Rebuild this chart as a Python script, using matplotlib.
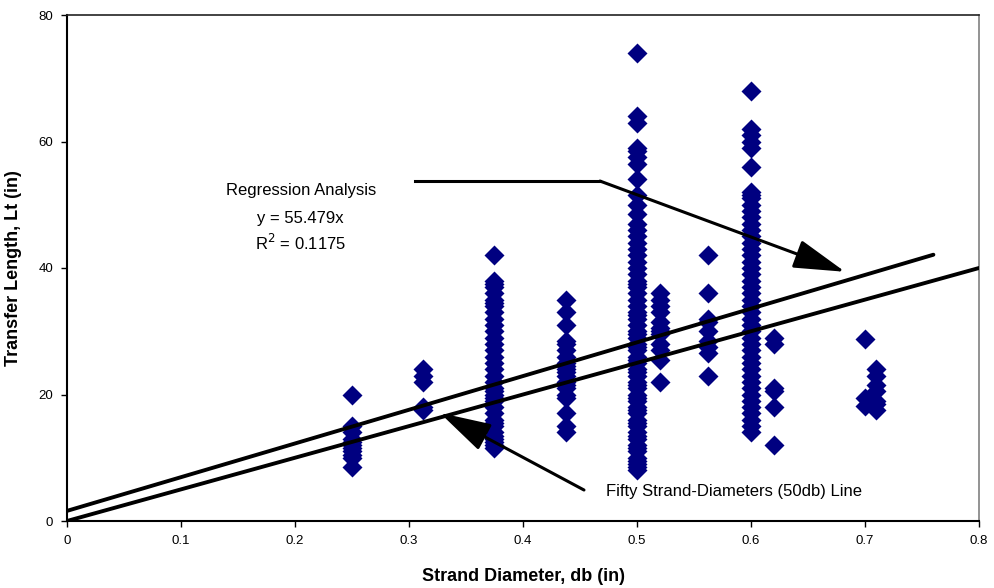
import matplotlib
matplotlib.use("Agg")
import matplotlib.pyplot as plt
import numpy as np

plt.rcParams['font.family'] = ['Liberation Sans', 'DejaVu Sans']

# Data: strand diameter (in) -> transfer lengths (in)
d025 = [20, 15, 14, 13, 12.5, 12, 11.5, 11, 10.5, 10, 8.5]
d03125 = [24, 23, 22, 18, 17.5]
d0375 = [42, 38, 37.5, 37, 36, 35, 34.5, 34, 33, 32, 31, 30, 29, 28, 27, 26, 25, 24,
         23, 22, 21, 20.5, 20, 19.5, 19, 18, 17, 16, 15.5, 15, 14, 13.5, 13, 12.5, 12, 11.5]
d04375 = [35, 33, 31, 28.5, 28, 27, 26, 25, 24.5, 24, 23.5, 23, 22, 21.5, 21, 20, 19.5, 17, 15, 14]
d05 = [74, 64, 63, 59, 58.5, 57.5, 56.5, 54, 51.5, 50, 48.5, 47, 46, 45, 44, 43, 42, 41, 40,
       39, 38, 37.5, 37, 36, 35, 34, 33, 32.5, 32, 31, 30, 29.5, 29, 28, 27.5, 27, 26, 25.5,
       25, 24, 23.5, 23, 22, 21.5, 21, 20, 19.5, 19, 18, 17.5, 17, 16, 15.5, 15, 14, 13.5,
       13, 12, 11.5, 11, 10, 9.5, 9, 8.5, 8]
d052 = [36, 35, 34, 33, 31.5, 30.5, 30, 29.5, 28, 27, 25.5, 22]
d05625 = [42, 36, 32, 31.5, 30, 28.5, 27.5, 26.5, 23]
d06 = [68, 62, 61, 60, 59, 56, 52, 51.5, 51, 50, 49, 48, 47, 46, 45, 44, 43, 42, 41, 40,
       39, 38, 37, 36, 35, 34, 33, 32, 31, 30, 29, 28, 27, 26, 25, 24, 23, 22, 21, 20, 19,
       18, 17, 16, 15, 14]
d062 = [29, 28, 21, 20.5, 18, 12]
d07 = [28.7, 19.5, 18.2]
d071 = [24, 23, 21.5, 20.5, 19, 18.5, 17.5]

diameters = [0.25, 0.3125, 0.375, 0.4375, 0.5, 0.52, 0.5625, 0.6, 0.62, 0.7, 0.71]
groups = [d025, d03125, d0375, d04375, d05, d052, d05625, d06, d062, d07, d071]

# Lines
line50_x = [0.0, 0.8]
line50_y = [0.0, 40.0]
reg_x = [0.0, 0.76]
reg_y = [1.6, 42.1]

xticks = [0, 0.1, 0.2, 0.3, 0.4, 0.5, 0.6, 0.7, 0.8]
xticklabels = ['0', '0.1', '0.2', '0.3', '0.4', '0.5', '0.6', '0.7', '0.8']
yticks = [0, 20, 40, 60, 80]

fig = plt.figure(figsize=(9.95, 5.88), dpi=100)
ax = fig.add_axes([67/995, 1-521/588, (979-67)/995, (521-15)/588])

xs = np.concatenate([[d]*len(g) for d, g in zip(diameters, groups)])
ys = np.concatenate(groups)
ax.plot(xs, ys, linestyle='none', marker='D', markersize=10,
        markerfacecolor='#000080', markeredgecolor='none', zorder=2)

ax.plot(line50_x, line50_y, color='black', lw=2.8, solid_capstyle='round', zorder=3)
ax.plot(reg_x, reg_y, color='black', lw=2.8, solid_capstyle='round', zorder=3)

ax.set_xlim(0, 0.8)
ax.set_ylim(0, 80)
ax.set_xticks(xticks)
ax.set_xticklabels(xticklabels)
ax.set_yticks(yticks)
ax.tick_params(direction='out', length=4, width=1, labelsize=9.5, pad=6)

for s in ['left', 'bottom']:
    ax.spines[s].set_linewidth(1.5)
    ax.spines[s].set_color('black')
ax.spines['top'].set_linewidth(1.2)
ax.spines['top'].set_color('#222222')
ax.spines['right'].set_linewidth(1.2)
ax.spines['right'].set_color('#808080')

ax.set_xlabel('Strand Diameter, db (in)', fontsize=13, fontweight='bold', labelpad=15)
ax.set_ylabel('Transfer Length, Lt (in)', fontsize=13, fontweight='bold', labelpad=12)

# Regression annotation
ax.text(0.2050, 52.2, 'Regression Analysis', fontsize=12, ha='center', va='center')
ax.text(0.2050, 47.8, 'y = 55.479x', fontsize=12, ha='center', va='center')
ax.text(0.2050, 44.0, 'R$^2$ = 0.1175', fontsize=12, ha='center', va='center')
ax.plot([0.305, 0.4675], [53.75, 53.75], color='black', lw=2.2, zorder=4)
ax.annotate('', xy=(0.6825, 39.4), xytext=(0.4675, 53.75),
            arrowprops=dict(arrowstyle='-|>,head_length=1.6,head_width=0.45',
                            color='black', lw=2.2, mutation_scale=20,
                            shrinkA=0, shrinkB=0), zorder=4)

# Fifty strand-diameters annotation
ax.annotate('', xy=(0.327, 17.1), xytext=(0.4535, 4.9),
            arrowprops=dict(arrowstyle='-|>,head_length=1.6,head_width=0.45',
                            color='black', lw=2.2, mutation_scale=20,
                            shrinkA=0, shrinkB=0), zorder=4)
ax.text(0.4725, 4.6, 'Fifty Strand-Diameters (50db) Line', fontsize=12,
        ha='left', va='center')

fig.savefig('out.png', dpi=100)
